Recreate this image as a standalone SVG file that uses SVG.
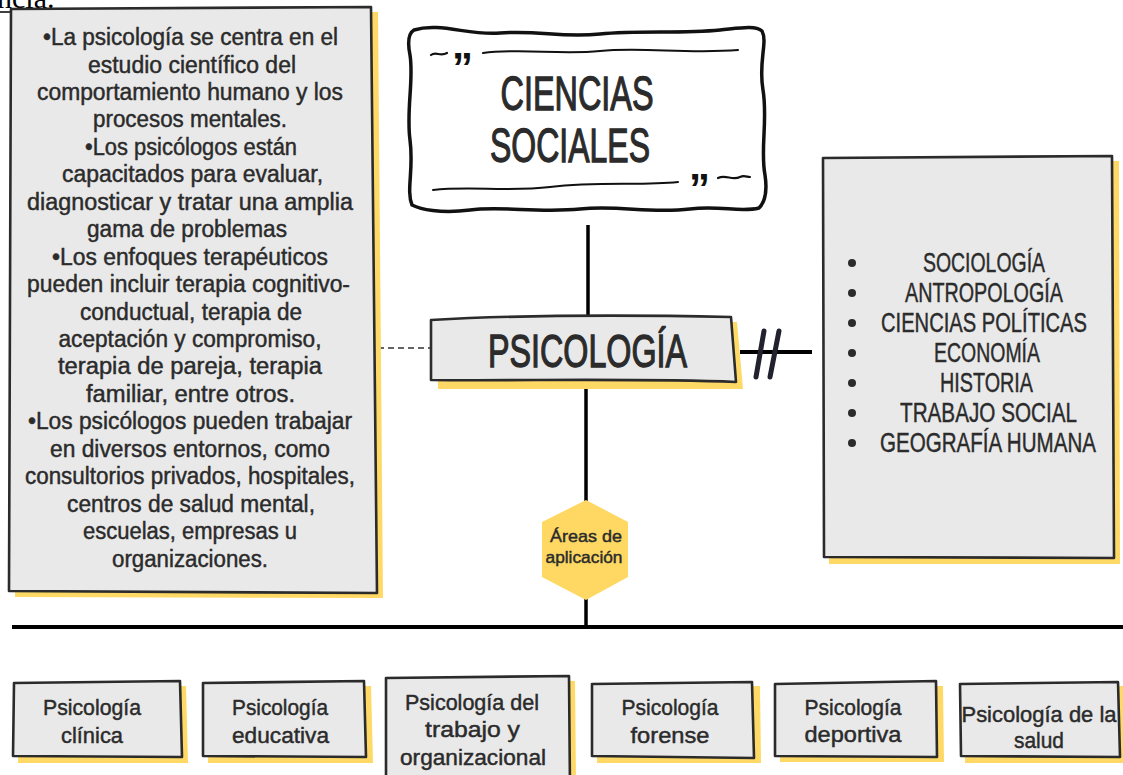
<svg xmlns="http://www.w3.org/2000/svg" width="1123" height="775" viewBox="0 0 1123 775">
<style>
.box{fill:#e9e9e9;stroke:#2b2b2b;stroke-width:2.6;stroke-linejoin:round}
.shadow{fill:#ffd966;stroke:none}
.t{font-family:"Liberation Sans",Arial,sans-serif;fill:#2b2b2b;text-anchor:middle;stroke:#2b2b2b;stroke-width:0.45}
.big{stroke-width:1.3}
.lt{font-size:23px}
.rt{font-size:28px}
.bt{font-size:22px}
.line{stroke:#000;stroke-width:3.5;fill:none}
.q{font-family:"Liberation Sans",Arial,sans-serif;font-weight:bold;font-size:42px;fill:#111}
</style>
<rect width="1123" height="775" fill="#fff"/>

<g id="header-fragment">
<text x="-3" y="8" font-family="Liberation Serif,serif" font-size="30" fill="#000">ncia.</text>
<line x1="0" y1="12" x2="62" y2="12" stroke="#000" stroke-width="1.5"/>
</g>

<g id="connectors">
<line class="line" x1="588" y1="225" x2="588" y2="318"/>
<line class="line" x1="586" y1="388" x2="586" y2="502"/>
<line class="line" x1="586" y1="598" x2="586" y2="627"/>
<line x1="12" y1="627" x2="1123" y2="627" stroke="#000" stroke-width="4"/>
<line x1="378" y1="348" x2="430" y2="348" stroke="#333" stroke-width="1.6" stroke-dasharray="6 4"/>
<line x1="740" y1="352" x2="812" y2="352" stroke="#000" stroke-width="4"/>
<path d="M756,377 L764,331 M770,377 L779,331" stroke="#22222e" stroke-width="5" stroke-linecap="round" fill="none"/>
</g>

<g id="left-box">
<path class="shadow" d="M17,14 L378,12 L383,598 L15,597 Z"/>
<path class="box" d="M11,9 L371,7 L377,593 L9,591 L10,300 Z"/>
<g class="t lt">
<text x="190.5" y="45" textLength="295" lengthAdjust="spacingAndGlyphs">•La psicología se centra en el</text>
<text x="192" y="72.5" textLength="208" lengthAdjust="spacingAndGlyphs">estudio científico del</text>
<text x="190" y="99.9" textLength="306" lengthAdjust="spacingAndGlyphs">comportamiento humano y los</text>
<text x="190" y="127.4" textLength="194" lengthAdjust="spacingAndGlyphs">procesos mentales.</text>
<text x="191" y="154.8" textLength="212" lengthAdjust="spacingAndGlyphs">•Los psicólogos están</text>
<text x="192.5" y="182.3" textLength="261" lengthAdjust="spacingAndGlyphs">capacitados para evaluar,</text>
<text x="190" y="209.7" textLength="326" lengthAdjust="spacingAndGlyphs">diagnosticar y tratar una amplia</text>
<text x="187" y="237.2" textLength="200" lengthAdjust="spacingAndGlyphs">gama de problemas</text>
<text x="190" y="264.6" textLength="276" lengthAdjust="spacingAndGlyphs">•Los enfoques terapéuticos</text>
<text x="188.5" y="292.1" textLength="323" lengthAdjust="spacingAndGlyphs">pueden incluir terapia cognitivo-</text>
<text x="191" y="319.5" textLength="222" lengthAdjust="spacingAndGlyphs">conductual, terapia de</text>
<text x="190" y="347" textLength="263" lengthAdjust="spacingAndGlyphs">aceptación y compromiso,</text>
<text x="190" y="374.4" textLength="264" lengthAdjust="spacingAndGlyphs">terapia de pareja, terapia</text>
<text x="190.5" y="401.9" textLength="209" lengthAdjust="spacingAndGlyphs">familiar, entre otros.</text>
<text x="190" y="429.3" textLength="324" lengthAdjust="spacingAndGlyphs">•Los psicólogos pueden trabajar</text>
<text x="190" y="456.8" textLength="280" lengthAdjust="spacingAndGlyphs">en diversos entornos, como</text>
<text x="190" y="484.2" textLength="330" lengthAdjust="spacingAndGlyphs">consultorios privados, hospitales,</text>
<text x="191" y="511.7" textLength="248" lengthAdjust="spacingAndGlyphs">centros de salud mental,</text>
<text x="190" y="539.1" textLength="214" lengthAdjust="spacingAndGlyphs">escuelas, empresas u</text>
<text x="190" y="566.6" textLength="156" lengthAdjust="spacingAndGlyphs">organizaciones.</text>
</g>
</g>

<g id="title">
<path d="M414,30 C440,22 470,36 500,33 C540,30 560,38 600,34 C640,30 680,34 720,30 C740,28 755,25 762,31 C768,42 758,62 763,90 C768,120 760,150 765,175 C768,195 763,204 759,208 C740,213 720,205 690,209 C650,214 620,205 580,209 C540,213 500,206 470,210 C440,214 420,209 412,205 C406,190 414,170 410,140 C406,110 414,80 410,55 C407,40 409,33 414,30 Z" fill="#fff" stroke="#111" stroke-width="3.5" stroke-linejoin="round"/>
<path d="M431,55 C436,51 440,57 447,53" stroke="#111" stroke-width="2.2" fill="none" stroke-linecap="round"/>
<path d="M483,53 C520,48 560,55 600,51 C640,47 690,54 738,50" stroke="#111" stroke-width="2" fill="none" stroke-linecap="round"/>
<path d="M433,190 C470,186 510,192 550,187 C600,181 640,186 678,182" stroke="#111" stroke-width="2" fill="none" stroke-linecap="round"/>
<path d="M718,178 C726,174 732,181 740,177 C744,175 747,177 750,177" stroke="#111" stroke-width="2.2" fill="none" stroke-linecap="round"/>
<text class="q" x="452" y="82">”</text>
<text class="q" x="689" y="203">”</text>
<text class="t big" x="577" y="110" font-size="49" textLength="153" lengthAdjust="spacingAndGlyphs">CIENCIAS</text>
<text class="t big" x="570" y="162" font-size="49" textLength="160" lengthAdjust="spacingAndGlyphs">SOCIALES</text>
</g>

<g id="psicologia">
<path class="shadow" d="M437,323 L737,322 L743,389 L438,389 Z"/>
<path class="box" d="M431,320 C520,315 640,315 731,317 L736,382 C640,378 520,381 431,380 Z"/>
<text class="t big" x="587.5" y="367" font-size="47" textLength="199" lengthAdjust="spacingAndGlyphs">PSICOLOGÍA</text>
</g>

<g id="right-box">
<path class="shadow" d="M830,162 L1119,161 L1120,564 L829,564 Z"/>
<path class="box" d="M823,158 L1112,156 L1114,558 L824,557 Z"/>
<g fill="#2b2b2b">
<circle cx="852" cy="263" r="4"/><circle cx="852" cy="293" r="4"/><circle cx="852" cy="323" r="4"/>
<circle cx="852" cy="353" r="4"/><circle cx="852" cy="383" r="4"/><circle cx="852" cy="413" r="4"/>
<circle cx="852" cy="443" r="4"/>
</g>
<g class="t rt">
<text x="984" y="272" textLength="122" lengthAdjust="spacingAndGlyphs">SOCIOLOGÍA</text>
<text x="984" y="302" textLength="158" lengthAdjust="spacingAndGlyphs">ANTROPOLOGÍA</text>
<text x="984" y="332" textLength="206" lengthAdjust="spacingAndGlyphs">CIENCIAS POLÍTICAS</text>
<text x="987" y="362" textLength="106" lengthAdjust="spacingAndGlyphs">ECONOMÍA</text>
<text x="986.5" y="392" textLength="93" lengthAdjust="spacingAndGlyphs">HISTORIA</text>
<text x="988.5" y="422" textLength="177" lengthAdjust="spacingAndGlyphs">TRABAJO SOCIAL</text>
<text x="988" y="452" textLength="216" lengthAdjust="spacingAndGlyphs">GEOGRAFÍA HUMANA</text>
</g>
</g>

<g id="areas">
<polygon points="586,500 628,522 628,577 586,600 542,577 542,522" fill="#ffd863"/>
<text class="t" x="586" y="542" font-size="17" textLength="72" lengthAdjust="spacingAndGlyphs">Áreas de</text>
<text class="t" x="584" y="563" font-size="17" textLength="77" lengthAdjust="spacingAndGlyphs">aplicación</text>
</g>

<g id="clinica">
<path class="shadow" d="M19,687 L186,686 L188,763 L18,763 Z"/>
<path class="box" d="M14,683 L180,681 L182,757 L13,756 Z"/>
<text class="t bt" x="92" y="715" textLength="98" lengthAdjust="spacingAndGlyphs">Psicología</text>
<text class="t bt" x="92" y="743" textLength="62" lengthAdjust="spacingAndGlyphs">clínica</text>
</g>

<g id="educativa">
<path class="shadow" d="M209,687 L371,686 L373,763 L208,763 Z"/>
<path class="box" d="M203,683 L364,681 L366,757 L203,756 Z"/>
<text class="t bt" x="280" y="715" textLength="96" lengthAdjust="spacingAndGlyphs">Psicología</text>
<text class="t bt" x="280.5" y="743" textLength="97" lengthAdjust="spacingAndGlyphs">educativa</text>
</g>

<g id="trabajo">
<path class="shadow" d="M391,682 L575,681 L576,780 L391,780 Z"/>
<path class="box" d="M386,678 L569,676 L570,790 L386,790 Z"/>
<text class="t bt" x="472" y="710" textLength="134" lengthAdjust="spacingAndGlyphs">Psicología del</text>
<text class="t bt" x="472.5" y="737" textLength="95" lengthAdjust="spacingAndGlyphs">trabajo y</text>
<text class="t bt" x="473" y="765" textLength="146" lengthAdjust="spacingAndGlyphs">organizacional</text>
</g>

<g id="forense">
<path class="shadow" d="M598,687 L760,686 L761,763 L597,763 Z"/>
<path class="box" d="M592,684 L752,682 L754,758 L592,756 Z"/>
<text class="t bt" x="670" y="715" textLength="97" lengthAdjust="spacingAndGlyphs">Psicología</text>
<text class="t bt" x="670" y="743" textLength="79" lengthAdjust="spacingAndGlyphs">forense</text>
</g>

<g id="deportiva">
<path class="shadow" d="M781,687 L943,686 L944,762 L780,762 Z"/>
<path class="box" d="M775,684 L936,681 L937,757 L775,756 Z"/>
<text class="t bt" x="853" y="715" textLength="97" lengthAdjust="spacingAndGlyphs">Psicología</text>
<text class="t bt" x="853" y="742" textLength="97" lengthAdjust="spacingAndGlyphs">deportiva</text>
</g>

<g id="salud">
<path class="shadow" d="M966,687 L1127,686 L1127,763 L965,763 Z"/>
<path class="box" d="M960,684 L1118,682 L1120,757 L961,756 Z"/>
<text class="t bt" x="1039" y="722" textLength="155" lengthAdjust="spacingAndGlyphs">Psicología de la</text>
<text class="t bt" x="1039" y="748" textLength="50" lengthAdjust="spacingAndGlyphs">salud</text>
</g>
</svg>
